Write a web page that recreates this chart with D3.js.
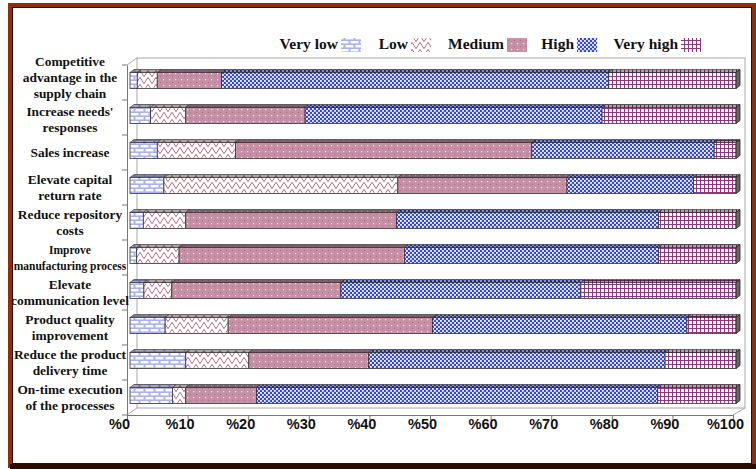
<!DOCTYPE html>
<html lang="en">
<head>
<meta charset="UTF-8">
<title>stacked 3d bars</title>
<style>
  body { margin: 0; background: #fff; }
  svg { display: block; }
</style>
</head>
<body>
<svg id="chart" width="756" height="469"></svg>
<script src="https://d3js.org/d3.v7.min.js"></script>
<script>
const categories = [
  'Competitive\nadvantage in the\nsupply chain',
  "Increase needs'\nresponses",
  'Sales increase',
  'Elevate capital\nreturn rate',
  'Reduce repository\ncosts',
  'Improve\nmanufacturing process',
  'Elevate\ncommunication level',
  'Product quality\nimprovement',
  'Reduce the product\ndelivery time',
  'On-time execution\nof the processes'
];
const levels = ['Very low', 'Low', 'Medium', 'High', 'Very high'];
const veryLow  = [1.2, 3.4, 4.5, 5.6, 2.2, 1.1, 2.3, 5.8, 9.2, 7.0];
const low      = [3.3, 5.8, 12.9, 38.6, 7.0, 7.0, 4.6, 10.4, 10.4, 2.2];
const medium   = [10.6, 19.7, 48.9, 27.9, 34.8, 37.2, 27.9, 33.7, 19.8, 11.7];
const high     = [63.9, 49.0, 30.1, 20.9, 43.2, 41.9, 39.6, 42.0, 48.9, 66.2];
const veryHigh = [21.0, 22.1, 3.6, 7.0, 12.8, 12.8, 25.6, 8.1, 11.7, 12.9];
const xTicks = [0, 10, 20, 30, 40, 50, 60, 70, 80, 90, 100];

const svg = d3.select('#chart');
const defs = svg.append('defs');

// fill patterns
function pattern(id, w, h, bg, draw) {
  const p = defs.append('pattern').attr('id', id)
    .attr('patternUnits', 'userSpaceOnUse').attr('width', w).attr('height', h);
  p.append('rect').attr('width', w).attr('height', h).attr('fill', bg);
  draw(p);
}
pattern('p0', 10, 8, '#aab2f2', p => {
  p.append('rect').attr('x', 0.5).attr('y', 1).attr('width', 8).attr('height', 2.4).attr('fill', '#fff');
  p.append('rect').attr('x', 5.5).attr('y', 5).attr('width', 8).attr('height', 2.4).attr('fill', '#fff');
  p.append('rect').attr('x', -4.5).attr('y', 5).attr('width', 8).attr('height', 2.4).attr('fill', '#fff');
});
pattern('p1', 8, 7, '#fff', p => {
  p.append('path').attr('d', 'M0,6 C2,6 2,1 4,1 C6,1 6,6 8,6 M4,1 L4,0 M0,6 L0,7 M8,6 L8,7')
    .attr('fill', 'none').attr('stroke', '#c26b82').attr('stroke-width', 1);
});
pattern('p2', 6, 6, '#c590a6', p => {
  p.append('rect').attr('x', 1).attr('y', 1).attr('width', 1.2).attr('height', 1.2).attr('fill', '#f6eaef');
  p.append('rect').attr('x', 4).attr('y', 4).attr('width', 1).attr('height', 1).attr('fill', '#a8708a');
});
pattern('p3', 4, 4, '#3446ee', p => {
  p.append('rect').attr('x', 0).attr('y', 0).attr('width', 1.9).attr('height', 1.9).attr('fill', '#e8ebff');
  p.append('rect').attr('x', 2).attr('y', 2).attr('width', 1.9).attr('height', 1.9).attr('fill', '#e8ebff');
});
pattern('p4', 4, 4, '#fff', p => {
  p.append('path').attr('d', 'M0.5,0 V4 M0,0.5 H4')
    .attr('stroke', '#8c3a80').attr('stroke-width', 1.1);
});

// frame
svg.append('rect').attr('x', 10).attr('y', 5).attr('width', 744).attr('height', 461)
  .attr('fill', '#fff').attr('stroke', '#8e2f0c').attr('stroke-width', 4);
svg.append('rect').attr('x', 12.5).attr('y', 7.5).attr('width', 739).attr('height', 456)
  .attr('fill', 'none').attr('stroke', '#2a0d02').attr('stroke-width', 1);
svg.append('rect').attr('x', 10).attr('y', 464).attr('width', 746).attr('height', 5).attr('fill', '#2a0c02');

const margin = { top: 65, left: 127, bottom: 415, right: 733 };
const x = d3.scaleLinear().domain([0, 100]).range([margin.left, margin.right]);
const y = d3.scaleBand().domain(categories).range([margin.top, margin.bottom]);
const dx = 10, dy = -7;

// back wall
svg.append('rect')
  .attr('x', x(0) + dx).attr('y', margin.top + dy)
  .attr('width', x(100) - x(0) + 2).attr('height', margin.bottom - margin.top)
  .attr('fill', 'none').attr('stroke', '#a8a8a8');
svg.append('path')
  .attr('d', `M${x(0)},${margin.top}L${x(0) + dx},${margin.top + dy}` +
    `M${x(0)},${margin.bottom}L${x(0) + dx},${margin.bottom + dy}` +
    `M${x(100)},${margin.bottom}L${x(100) + dx + 2},${margin.bottom + dy}`)
  .attr('stroke', '#a8a8a8').attr('fill', 'none');

// axes
const xAxis = d3.axisBottom(x).tickValues(xTicks).tickSize(5).tickFormat(d => '%' + d);
const gx = svg.append('g').attr('transform', `translate(0,${margin.bottom})`).call(xAxis);
gx.select('.domain').attr('stroke', '#777');
gx.selectAll('.tick line').attr('stroke', '#777');
gx.selectAll('.tick text')
  .attr('dx', -8).attr('dy', 6)
  .attr('font-family', '"Liberation Sans", Arial, sans-serif')
  .attr('font-weight', 'bold').attr('font-size', 14.5).attr('fill', '#111');

const yAxis = d3.axisLeft(y).tickSize(0).tickFormat('');
const gy = svg.append('g').attr('transform', `translate(${margin.left},0)`).call(yAxis);
gy.select('.domain').attr('stroke', '#777');
// band boundary ticks
svg.append('g').selectAll('line')
  .data(categories)
  .join('line')
  .attr('x1', margin.left - 5).attr('x2', margin.left)
  .attr('y1', d => y(d) + y.bandwidth()).attr('y2', d => y(d) + y.bandwidth())
  .attr('stroke', '#777');
svg.append('line').attr('x1', margin.left - 5).attr('x2', margin.left)
  .attr('y1', margin.top).attr('y2', margin.top).attr('stroke', '#777');

// category labels
const labels = svg.append('g')
  .attr('font-family', '"Liberation Serif", "Times New Roman", serif')
  .attr('font-weight', 'bold').attr('fill', '#111').attr('text-anchor', 'middle');
categories.forEach((c, i) => {
  const lines = c.split('\n');
  const small = i === 5;
  const lh = 15.7;
  const cy = y(c) + y.bandwidth() / 2 - (lines.length === 3 ? 5 : 0) + (i === 1 ? 2 : 0);
  const t = labels.append('text').attr('font-size', small ? 11.5 : 13.4);
  lines.forEach((l, j) => {
    t.append('tspan').attr('x', 70)
      .attr('y', cy + (j - (lines.length - 1) / 2) * lh + 4.5)
      .text(l);
  });
});

// stacked bars
const table = categories.map((c, i) => ({
  cat: c,
  'Very low': veryLow[i], 'Low': low[i], 'Medium': medium[i], 'High': high[i], 'Very high': veryHigh[i]
}));
const series = d3.stack().keys(levels)(table);
const bx = 3, bh = 16, ddx = 4, ddy = -3;
const barTop = d => y(d.data.cat) + y.bandwidth() / 2 - 2 - bh / 2;

series.forEach((s, k) => {
  const g = svg.append('g');
  // front face
  g.selectAll('rect').data(s).join('rect')
    .attr('x', d => x(d[0]) + bx)
    .attr('y', barTop)
    .attr('width', d => x(d[1]) - x(d[0]))
    .attr('height', bh)
    .attr('fill', `url(#p${k})`)
    .attr('stroke', '#333').attr('stroke-width', 0.8);
  // top face
  g.selectAll('path.top').data(s).join('path').attr('class', 'top')
    .attr('d', d => {
      const x0 = x(d[0]) + bx, x1 = x(d[1]) + bx, t = barTop(d);
      return `M${x0},${t}L${x0 + ddx},${t + ddy}L${x1 + ddx},${t + ddy}L${x1},${t}Z`;
    })
    .attr('fill', `url(#p${k})`)
    .attr('stroke', '#333').attr('stroke-width', 0.6);
  g.selectAll('path.shade').data(s).join('path').attr('class', 'shade')
    .attr('d', d => {
      const x0 = x(d[0]) + bx, x1 = x(d[1]) + bx, t = barTop(d);
      return `M${x0},${t}L${x0 + ddx},${t + ddy}L${x1 + ddx},${t + ddy}L${x1},${t}Z`;
    })
    .attr('fill', '#000').attr('opacity', 0.35);
  // end side face
  if (k === levels.length - 1) {
    g.selectAll('path.side').data(s).join('path').attr('class', 'side')
      .attr('d', d => {
        const x1 = x(d[1]) + bx, t = barTop(d);
        return `M${x1},${t}L${x1 + ddx},${t + ddy}L${x1 + ddx},${t + ddy + bh}L${x1},${t + bh}Z`;
      })
      .attr('fill', '#666').attr('stroke', '#222').attr('stroke-width', 0.8);
  }
});

// legend
const legendX = [341, 411, 507, 577, 681];
const legend = svg.append('g')
  .attr('font-family', '"Liberation Serif", "Times New Roman", serif')
  .attr('font-weight', 'bold').attr('font-size', 15.5).attr('fill', '#111');
levels.forEach((l, k) => {
  legend.append('text').attr('x', legendX[k] - 3).attr('y', 49)
    .attr('text-anchor', 'end').text(l);
  legend.append('rect').attr('x', legendX[k]).attr('y', 38)
    .attr('width', 20).attr('height', 14).attr('fill', `url(#p${k})`);
});
</script>
</body>
</html>
